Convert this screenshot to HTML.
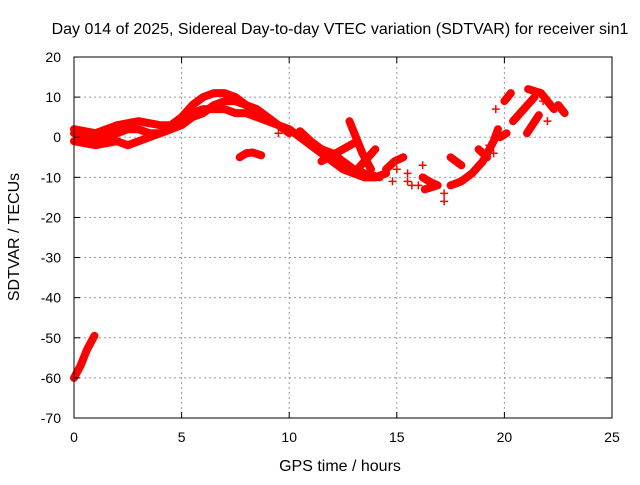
<!DOCTYPE html>
<html><head><meta charset="utf-8"><style>
body{margin:0;background:#fff;}
svg text{font-family:"Liberation Sans",sans-serif;font-size:14px;fill:#000;}
svg text.big{font-size:16px;}
</style></head><body>
<svg id="chart" width="640" height="480" xmlns="http://www.w3.org/2000/svg">
<rect width="640" height="480" fill="#fff"/>
<text class="big" x="340" y="34" text-anchor="middle">Day 014 of 2025, Sidereal Day-to-day VTEC variation (SDTVAR) for receiver sin1</text>
<text class="big" x="340" y="471" text-anchor="middle">GPS time / hours</text>
<text class="big" transform="translate(19,237) rotate(-90)" text-anchor="middle">SDTVAR / TECUs</text>
<g id="grid"></g>
<g id="marks"></g>
<rect x="74" y="57" width="538" height="361" fill="none" stroke="#000" stroke-width="1"/>
<g id="ticks"></g>
</svg>
<script>
const xTicks=[0,5,10,15,20,25];
const yTicks=[20,10,0,-10,-20,-30,-40,-50,-60,-70];
const tracks=[
 [[0,1],[0.5,0],[1,-1],[1.5,0],[2,1],[2.5,2],[3,2],[3.5,1],[4,1],[4.5,2],[5,4],[5.5,6],[6,7],[6.5,7],[7,7],[7.5,6],[8,6],[8.5,5],[9,4],[9.5,3],[10,2],[10.5,0],[11,-2],[11.5,-4],[12,-6],[12.5,-8],[13,-9],[13.5,-10],[14,-10],[14.5,-9]],
 [[0,2],[1,1],[2,3],[3,4],[4,3],[4.5,3],[5,5],[5.5,8],[6,10],[6.5,11],[7,11],[7.5,10],[8,8],[8.5,7],[9,5],[9.5,3],[10,1]],
 [[0,-1],[1,-2],[2,-1],[2.5,-2],[3,-1],[3.5,0],[4,1],[5,3],[5.5,5],[6,6],[6.5,8],[7,9],[7.5,9],[8,8],[8.5,6]],
 [[7.7,-5],[8,-4],[8.3,-3.8],[8.7,-4.5]],
 [[10.5,1.5],[11,-1],[11.5,-3],[12,-4],[12.5,-6],[13,-8],[13.5,-9],[14.2,-10]],
 [[11.5,-6],[12.5,-3],[13,-1.5]],
 [[12.8,4],[13.1,0],[13.4,-4],[13.8,-8]],
 [[13,-9],[13.5,-6],[14,-3]],
 [[14.5,-8],[14.9,-6],[15.3,-5]],
 [[16.2,-10],[16.5,-11],[16.9,-12],[16.3,-13]],
 [[17.5,-5],[18,-7]],
 [[17.5,-12],[18,-11],[18.5,-9],[19,-6],[19.5,-1],[19.7,2]],
 [[18.8,-3],[19.2,-5]],
 [[20,9],[20.3,11]],
 [[19.8,0],[20.1,1]],
 [[20.4,4],[21.4,10]],
 [[21.05,1],[21.6,5.5]],
 [[21.1,12],[21.7,11],[22.3,7]],
 [[22.5,8],[22.8,6]],
 [[0,-60],[0.3,-57],[0.6,-53],[0.95,-49.5]]
];
const pluses=[[15.5,-9],[15.5,-11],[15.7,-12],[16.2,-7],[17.2,-14],[17.2,-16],[19.5,-4],[19.6,7],[19.3,-2],[15,-8],[14.8,-11],[16,-12],[9.5,1],[22,4],[21.8,9]];
const X=h=>74+h*538/25, Y=v=>57+(20-v)*361/90;
const NS='http://www.w3.org/2000/svg';
const grid=document.getElementById('grid'),ticks=document.getElementById('ticks'),marks=document.getElementById('marks');
function mk(t,a,p){const e=document.createElementNS(NS,t);for(const k in a)e.setAttribute(k,a[k]);p.appendChild(e);return e;}
xTicks.forEach(t=>{
 if(t>0&&t<25){const g=mk('line',{x1:X(t),x2:X(t),y1:57,y2:418,stroke:'#999','stroke-dasharray':'2,3'},grid);
 
 }
 mk('line',{x1:X(t),x2:X(t),y1:418,y2:412,stroke:'#000'},ticks);
 mk('line',{x1:X(t),x2:X(t),y1:57,y2:63,stroke:'#000'},ticks);
 const l=mk('text',{x:X(t),y:442,'text-anchor':'middle'},ticks);l.textContent=t;
 
 
});
yTicks.forEach(t=>{
 if(t<20&&t>-70){const g=mk('line',{x1:74,x2:612,y1:Y(t),y2:Y(t),stroke:'#999','stroke-dasharray':'2,3'},grid);
 
 }
 mk('line',{x1:74,x2:80,y1:Y(t),y2:Y(t),stroke:'#000'},ticks);
 mk('line',{x1:606,x2:612,y1:Y(t),y2:Y(t),stroke:'#000'},ticks);
 const l=mk('text',{x:61,y:Y(t)+5,'text-anchor':'end'},ticks);l.textContent=t;
 
 
});
tracks.forEach(tr=>{
 const p=mk('polyline',{points:tr.map(d=>X(d[0])+','+Y(d[1])).join(' '),fill:'none',stroke:'#f00','stroke-width':8,'stroke-linejoin':'round','stroke-linecap':'round'},marks);
 
 
});
pluses.forEach(d=>{
 const x=X(d[0]),y=Y(d[1]);
 const p=mk('path',{d:`M${x-4},${y}H${x+4}M${x},${y-4}V${y+4}`,stroke:'#f00','stroke-width':1.5},marks);
 
 
});
</script>
</body></html>
